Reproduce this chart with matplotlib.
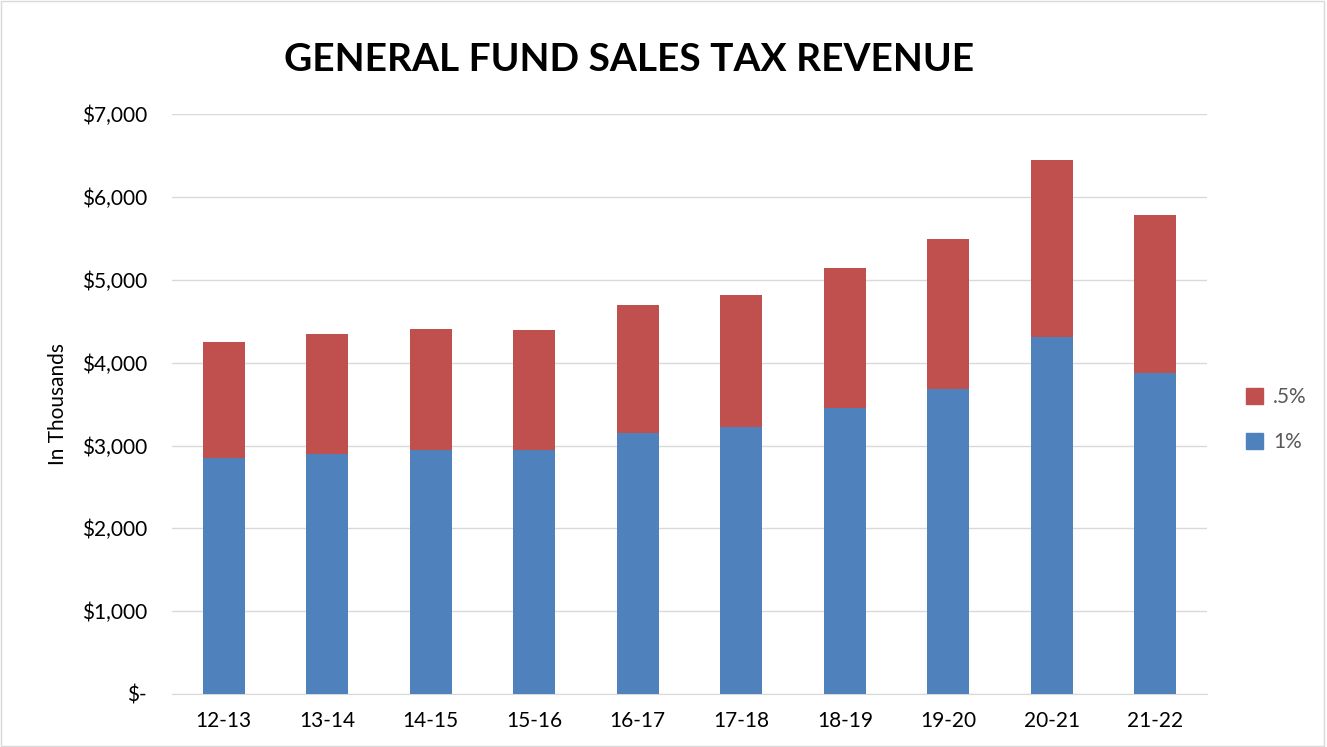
import matplotlib.pyplot as plt
from matplotlib.patches import Patch
from matplotlib.ticker import FuncFormatter
import numpy as np

plt.rcParams['font.family'] = ['Lato', 'DejaVu Sans']

years = ['12-13', '13-14', '14-15', '15-16', '16-17', '17-18', '18-19', '19-20', '20-21', '21-22']
one_pct = [2848, 2897, 2945, 2945, 3150, 3222, 3452, 3681, 4308, 3874]
total = [4248, 4345, 4405, 4393, 4695, 4815, 5141, 5491, 6445, 5781]
half_pct = [t - o for t, o in zip(total, one_pct)]

blue = '#4F81BD'
red = '#C0504D'

fig = plt.figure(figsize=(13.27, 7.47), dpi=100)
ax = fig.add_axes([0.1296, 0.071, 0.78, 0.776])

x = np.arange(len(years))
ax.bar(x, one_pct, width=0.406, color=blue, zorder=3)
ax.bar(x, half_pct, bottom=one_pct, width=0.406, color=red, zorder=3)

ax.set_xlim(-0.5, len(years) - 0.5)
ax.set_ylim(0, 7000)
ax.set_yticks(range(0, 7001, 1000))
ax.yaxis.set_major_formatter(FuncFormatter(lambda v, p: '$-' if v == 0 else '${:,.0f}'.format(v)))
ax.set_xticks(x)
ax.set_xticklabels(years)
ax.grid(axis='y', color='#D9D9D9', linewidth=1, zorder=0)
for s in ['top', 'right', 'left']:
    ax.spines[s].set_visible(False)
ax.spines['bottom'].set_color('#D9D9D9')
ax.tick_params(axis='both', length=0, labelsize=15, colors='#000000')
ax.tick_params(axis='y', pad=18)
ax.tick_params(axis='x', pad=12)
ax.set_ylabel('In Thousands', fontsize=15, labelpad=10)

fig.text(0.474, 0.92, 'GENERAL FUND SALES TAX REVENUE', ha='center', va='center',
         fontsize=28, fontweight='bold')

handles = [Patch(color=red, label='.5%'), Patch(color=blue, label='1%')]
leg = fig.legend(handles=handles, loc='center left', bbox_to_anchor=(0.925, 0.438),
                 frameon=False, fontsize=15, handlelength=0.8, handleheight=0.8,
                 labelspacing=1.2, handletextpad=0.5)
for t in leg.get_texts():
    t.set_color('#595959')

fig.patches.append(plt.Rectangle((0.001, 0.001), 0.997, 0.997, transform=fig.transFigure,
                                 fill=False, edgecolor='#D9D9D9', linewidth=1))

fig.savefig('out.png', dpi=100)
